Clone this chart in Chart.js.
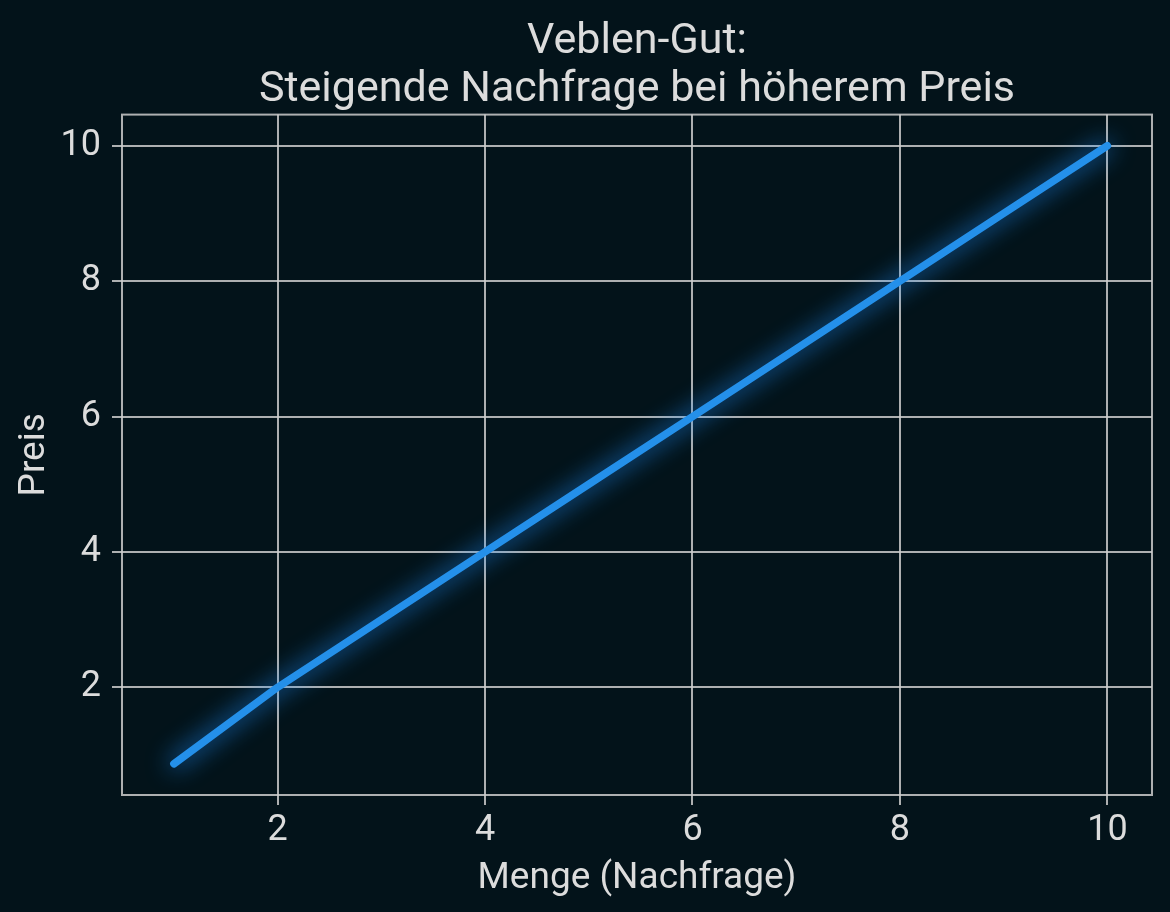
<!DOCTYPE html>
<html>
<head>
<meta charset="utf-8">
<script src="https://cdn.jsdelivr.net/npm/chart.js@4"></script>
<style>
  html, body { margin: 0; padding: 0; background: #03131a; }
  #wrap { width: 1170px; height: 912px; }
</style>
</head>
<body>
<div id="wrap"><canvas id="myChart" width="1170" height="912"></canvas></div>
<script>
// data
var menge = [1, 2, 3, 4, 5, 6, 7, 8, 9, 10];
var preis = [0.87, 2, 3, 4, 5, 6, 7, 8, 9, 10];
var xTicks = [2, 4, 6, 8, 10];
var yTicks = [2, 4, 6, 8, 10];

var textColor = '#dcdcdc';
var gridColor = 'rgba(205,205,205,0.85)';

// glow under the line
var glow = {
    id: 'glow',
    beforeDatasetDraw: function(chart){
        var ctx = chart.ctx;
        ctx.save();
        ctx.shadowColor = 'rgba(30,144,255,1)';
        ctx.shadowBlur = 24;
    },
    afterDatasetDraw: function(chart){
        chart.ctx.restore();
    }
};

// box round the plot area
var frame = {
    id: 'frame',
    afterDraw: function(chart){
        var a = chart.chartArea, ctx = chart.ctx;
        ctx.save();
        ctx.strokeStyle = gridColor;
        ctx.lineWidth = 2;
        ctx.strokeRect(a.left, a.top, a.right - a.left, a.bottom - a.top);
        ctx.restore();
    }
};

var points = menge.map(function(x, i){ return {x: x, y: preis[i]}; });

var ctx = document.getElementById('myChart').getContext('2d');
var myChart = new Chart(ctx, {
    type: 'line',
    data: {
        datasets: [{
            label: 'Preis',
            data: points,
            borderColor: '#2490ea',
            borderWidth: 7.5,
            borderCapStyle: 'round',
            borderJoinStyle: 'round',
            pointRadius: 0,
            tension: 0,
            fill: false
        }]
    },
    options: {
        responsive: false,
        animation: false,
        layout: { padding: { left: 0, right: 18, top: 0, bottom: 0 } },
        plugins: {
            legend: { display: false },
            tooltip: { enabled: false },
            title: {
                display: true,
                fullSize: false,
                text: ['Veblen-Gut:', 'Steigende Nachfrage bei höherem Preis'],
                color: textColor,
                font: { family: 'Roboto', size: 43, weight: 'normal', lineHeight: 1.1 },
                padding: { top: 19, bottom: 1 }
            }
        },
        scales: {
            x: {
                type: 'linear',
                min: 0.5,
                max: 10.43,
                afterBuildTicks: function(axis){ axis.ticks = xTicks.map(function(v){ return {value: v}; }); },
                afterFit: function(axis){ axis.height = 117; },
                ticks: { color: textColor, font: { family: 'Roboto', size: 36 }, padding: 4 },
                grid: { color: gridColor, lineWidth: 2, tickLength: 10, tickColor: gridColor },
                border: { display: false },
                title: { display: true, text: 'Menge (Nachfrage)', color: textColor,
                         font: { family: 'Roboto', size: 37 }, padding: { top: 4, bottom: 11 } }
            },
            y: {
                type: 'linear',
                min: 0.41,
                max: 10.46,
                afterBuildTicks: function(axis){ axis.ticks = yTicks.map(function(v){ return {value: v}; }); },
                afterFit: function(axis){ axis.width = 122; },
                ticks: { color: textColor, font: { family: 'Roboto', size: 36 }, padding: 11 },
                grid: { color: gridColor, lineWidth: 2, tickLength: 10, tickColor: gridColor },
                border: { display: false },
                title: { display: true, text: 'Preis', color: textColor,
                         font: { family: 'Roboto', size: 37 }, padding: { top: 13, bottom: 10 } }
            }
        }
    },
    plugins: [glow, frame]
});
</script>
</body>
</html>
